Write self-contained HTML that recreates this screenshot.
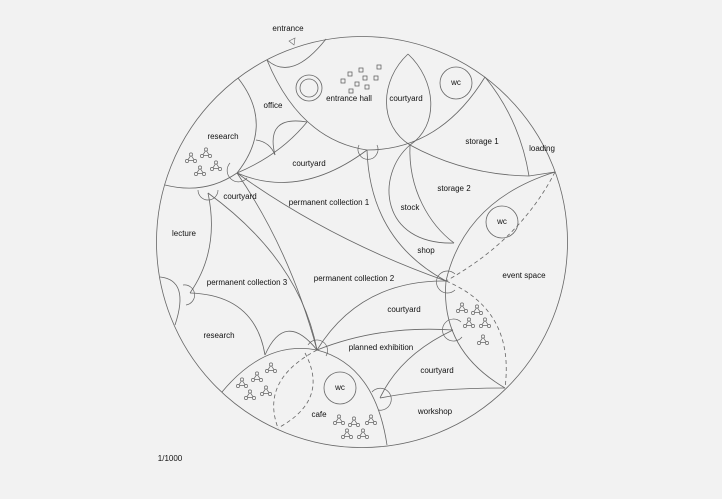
<!DOCTYPE html>
<html><head><meta charset="utf-8"><style>
html,body{margin:0;padding:0;background:#f2f2f2;}
svg{display:block;}
text{font-family:"Liberation Sans",sans-serif;font-size:8px;fill:#111;text-anchor:middle;dominant-baseline:middle;}
</style></head><body>
<svg width="722" height="499" viewBox="0 0 722 499" xmlns="http://www.w3.org/2000/svg">
<defs>
<g id="p" fill="none" stroke="#666" stroke-width="0.7">
<path d="M0,-3 L-3.5,2.5 L3.5,2.5 Z"/>
<circle cx="0" cy="-3.5" r="1.6" fill="#f2f2f2"/>
<circle cx="-4" cy="3" r="1.6" fill="#f2f2f2"/>
<circle cx="4" cy="3" r="1.6" fill="#f2f2f2"/>
</g>
</defs>
<rect width="722" height="499" fill="#f2f2f2"/>
<g fill="none" stroke="#666" stroke-width="0.8">
<circle cx="362" cy="242" r="205.5"/>
<path d="M267,60 Q292,82 326,39"/>
<path d="M295,38 l-6,3 l5,4 z" stroke-width="0.6"/>
<path d="M267,60 Q300,140 367,150 Q440,150 485,77"/>
<path d="M408,54 C380,80 378,125 410,145 C440,125 436,80 408,54"/>
<circle cx="456" cy="83" r="16"/>
<circle cx="309" cy="88" r="13"/><circle cx="309" cy="88" r="9"/>
<path d="M238,78 Q275,125 237,173"/>
<path d="M165,185 Q205,195 237,173"/>
<path d="M237,173 Q280,155 307,122"/>
<path d="M256,140 Q270,142 275,155"/>
<path d="M275,155 Q265,115 307,122"/>
<path d="M237,173 Q300,200 367,150"/>
<path d="M410,145 Q465,175 529,176"/>
<path d="M485,77 Q520,120 529,176"/>
<path d="M529,176 L555,172"/>
<path d="M410,145 C375,175 380,245 454,243"/>
<path d="M410,145 C408,190 430,225 454,243"/>
<path d="M367,150 Q370,240 446,281"/>
<path d="M555,172 Q465,200 446,281 Q440,350 505,388"/>
<path d="M555,172 Q520,240 446,281" stroke-dasharray="4,3"/>
<path d="M446,281 Q515,310 505,388" stroke-dasharray="4,3"/>
<path d="M237,173 Q330,240 446,281"/>
<path d="M237,173 Q290,250 317,350"/>
<path d="M208,193 Q300,260 317,350"/>
<path d="M208,193 Q220,250 190,293"/>
<path d="M160,277 Q190,280 175,325"/>
<path d="M190,293 Q255,295 265,355"/>
<path d="M222,392 Q265,340 317,350 Q375,365 387,445"/>
<path d="M265,355 Q285,310 317,350"/>
<path d="M317,350 Q260,380 278,428" stroke-dasharray="4,3"/>
<path d="M305,353 Q330,400 278,428" stroke-dasharray="4,3"/>
<circle cx="340" cy="388" r="16"/>
<path d="M317,350 Q360,280 446,281"/>
<path d="M317,350 Q380,325 453,330"/>
<path d="M453,330 Q400,355 380,398"/>
<path d="M380,398 Q430,388 505,388"/>
<circle cx="502" cy="222" r="16"/>
</g>
<g fill="none" stroke="#666" stroke-width="0.7">
<path d="M359,145 A10,10 0 1 0 377,145"/>
<path d="M230,163 A10,10 0 1 0 247,178"/>
<path d="M198,190 A10,10 0 1 0 218,190"/>
<path d="M183,285 A10,10 0 1 1 186,305"/>
<path d="M455,274 A11,11 0 1 0 455,290"/>
<path d="M461,322 A11,11 0 1 0 462,337"/>
<path d="M308,345 A10,10 0 1 1 326,356"/>
<path d="M372,392 A11,11 0 1 1 378,410"/>
</g>
<g fill="none" stroke="#555" stroke-width="0.7">
<rect x="348" y="72" width="4" height="4"/>
<rect x="359" y="68" width="4" height="4"/>
<rect x="377" y="65" width="4" height="4"/>
<rect x="341" y="79" width="4" height="4"/>
<rect x="355" y="82" width="4" height="4"/>
<rect x="363" y="76" width="4" height="4"/>
<rect x="374" y="76" width="4" height="4"/>
<rect x="349" y="89" width="4" height="4"/>
<rect x="365" y="85" width="4" height="4"/>
</g>
<use href="#p" x="191" y="158"/><use href="#p" x="206" y="153"/><use href="#p" x="200" y="171"/><use href="#p" x="216" y="166"/>
<use href="#p" x="462" y="308"/><use href="#p" x="477" y="310"/><use href="#p" x="469" y="323"/><use href="#p" x="485" y="323"/><use href="#p" x="483" y="340"/>
<use href="#p" x="242" y="383"/><use href="#p" x="257" y="377"/><use href="#p" x="271" y="368"/><use href="#p" x="250" y="395"/><use href="#p" x="266" y="391"/>
<use href="#p" x="339" y="420"/><use href="#p" x="354" y="422"/><use href="#p" x="371" y="420"/><use href="#p" x="347" y="434"/><use href="#p" x="363" y="434"/>
<text x="288" y="29">entrance</text>
<text x="349" y="99">entrance hall</text>
<text x="406" y="99">courtyard</text>
<text x="456" y="83">wc</text>
<text x="273" y="106">office</text>
<text x="223" y="137">research</text>
<text x="309" y="164">courtyard</text>
<text x="482" y="142">storage 1</text>
<text x="542" y="149">loading</text>
<text x="454" y="189">storage 2</text>
<text x="240" y="197">courtyard</text>
<text x="329" y="203">permanent collection 1</text>
<text x="410" y="208">stock</text>
<text x="502" y="222">wc</text>
<text x="184" y="234">lecture</text>
<text x="426" y="251">shop</text>
<text x="524" y="276">event space</text>
<text x="354" y="279">permanent collection 2</text>
<text x="247" y="283">permanent collection 3</text>
<text x="404" y="310">courtyard</text>
<text x="219" y="336">research</text>
<text x="381" y="348">planned exhibition</text>
<text x="437" y="371">courtyard</text>
<text x="340" y="388">wc</text>
<text x="435" y="412">workshop</text>
<text x="319" y="415">cafe</text>
<text x="170" y="459">1/1000</text>
</svg>
</body></html>
